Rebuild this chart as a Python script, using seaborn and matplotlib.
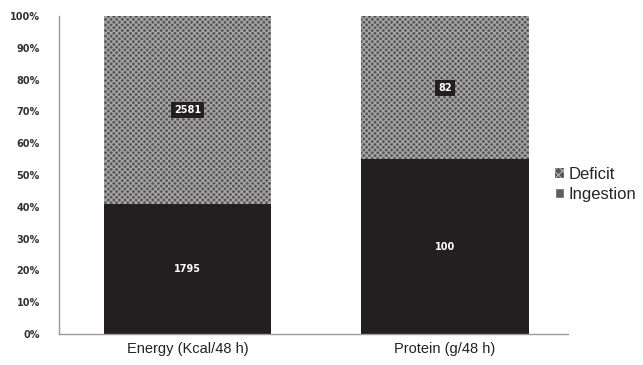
import seaborn as sns
import matplotlib.pyplot as plt
import pandas as pd
from matplotlib.patches import Patch

# data
categories = ["Energy (Kcal/48 h)", "Protein (g/48 h)"]
ingestion = [1795, 100]
deficit = [2581, 82]

total = [i + d for i, d in zip(ingestion, deficit)]
ing_pct = [100 * i / t for i, t in zip(ingestion, total)]
df = pd.DataFrame({"cat": categories, "ingestion": ing_pct, "total": [100, 100]})

sns.set_style("white")
plt.rcParams["hatch.linewidth"] = 0.9

fig = plt.figure(figsize=(6.43, 3.65), dpi=100)
ax = fig.add_axes([0.092, 0.085, 0.792, 0.871])

# deficit on top (full height), ingestion in front
sns.barplot(data=df, x="cat", y="total", color="#585858", width=0.65,
            saturation=1, ax=ax, linewidth=0)
for p in ax.patches:
    p.set_hatch("xxxxxx")
    p.set_edgecolor("#a9a9a9")
    p.set_linewidth(0)
sns.barplot(data=df, x="cat", y="ingestion", color="#231f20", width=0.65,
            saturation=1, ax=ax, linewidth=0)

box = dict(boxstyle="square,pad=0.3", fc="#231f20", ec="none")
for k in range(len(categories)):
    ax.text(k, ing_pct[k] / 2, str(ingestion[k]), ha="center", va="center",
            color="white", fontsize=7, fontweight="bold", family="DejaVu Sans", bbox=box)
    ax.text(k, (ing_pct[k] + 100) / 2, str(deficit[k]), ha="center", va="center",
            color="white", fontsize=7, fontweight="bold", family="DejaVu Sans", bbox=box)

ax.set_ylim(0, 100)
ax.set_xlim(-0.5, 1.48)
ax.set_yticks(range(0, 101, 10))
ax.set_yticklabels([f"{v}%" for v in range(0, 101, 10)], fontsize=7, fontweight="bold",
                   color="#333333", family="DejaVu Sans")
ax.set_xticks(range(len(categories)))
ax.set_xticklabels(categories, fontsize=10.5, family="Liberation Sans", color="#222222")
ax.tick_params(axis="both", length=0, pad=14)
ax.tick_params(axis="x", pad=6)
ax.set_xlabel("")
ax.set_ylabel("")
sns.despine(ax=ax, top=True, right=True)
for s in ["left", "bottom"]:
    ax.spines[s].set_color("#9a9a9a")
    ax.spines[s].set_linewidth(1)

handles = [Patch(facecolor="#585858", hatch="xxxx", edgecolor="#a9a9a9", linewidth=0, label="Deficit"),
           Patch(facecolor="#5f5f5f", label="Ingestion")]
fig.legend(handles=handles, loc="center left", bbox_to_anchor=(0.84, 0.495), frameon=False,
           prop={"family": "Liberation Sans", "size": 12}, handlelength=0.55, handleheight=0.55,
           handletextpad=0.25, labelspacing=0.3)

fig.savefig("out.png", dpi=100)
